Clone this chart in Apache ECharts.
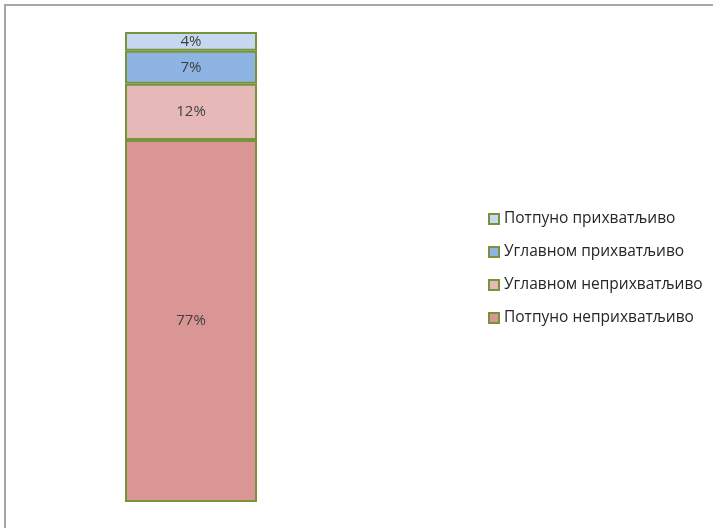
<!DOCTYPE html>
<html><head><meta charset="utf-8">
<script src="https://cdn.jsdelivr.net/npm/echarts@6/dist/echarts.min.js"></script>
<style>html,body{margin:0;padding:0;background:#fff}#c{width:713px;height:528px}</style>
</head><body><div id="c"></div>
<script>
const categories = ['Укупно'];
const seriesNames = ['Потпуно неприхватљиво','Углавном неприхватљиво','Углавном прихватљиво','Потпуно прихватљиво'];
const values = [[77],[12],[7],[4]];
const colors = ['#d99694','#e6b9b8','#8eb4e3','#c6d9f0'];
const legendOrder = ['Потпуно прихватљиво','Углавном прихватљиво','Углавном неприхватљиво','Потпуно неприхватљиво'];

const chart = echarts.init(document.getElementById('c'));
const font = 'Open Sans';
chart.setOption({
  animation:false,
  graphic:[{type:'rect',shape:{x:5,y:5,width:800,height:600},style:{fill:'none',stroke:'#a6a6a6',lineWidth:2},z:-1}],
  grid:{left:125,width:132,top:32,bottom:26},
  xAxis:{type:'category',data:categories,show:false},
  yAxis:{type:'value',min:0,max:100,show:false},
  legend:{orient:'vertical',left:483,top:204,itemGap:13,itemWidth:10,itemHeight:10,icon:'rect',
    data:legendOrder,textStyle:{fontFamily:font,fontSize:15.5,color:'#262626',lineHeight:20},
    itemStyle:{borderColor:'#77933c',borderWidth:2}},
  series: seriesNames.map((n,i)=>({
    name:n,type:'bar',stack:'s',barWidth:'100%',data:values[i],
    itemStyle:{color:colors[i],borderColor:'#77933c',borderWidth:2},
    label:{show:true,position:'inside',formatter:'{c}%',fontFamily:font,fontSize:15,color:'#404040'}
  }))
});
</script></body></html>
